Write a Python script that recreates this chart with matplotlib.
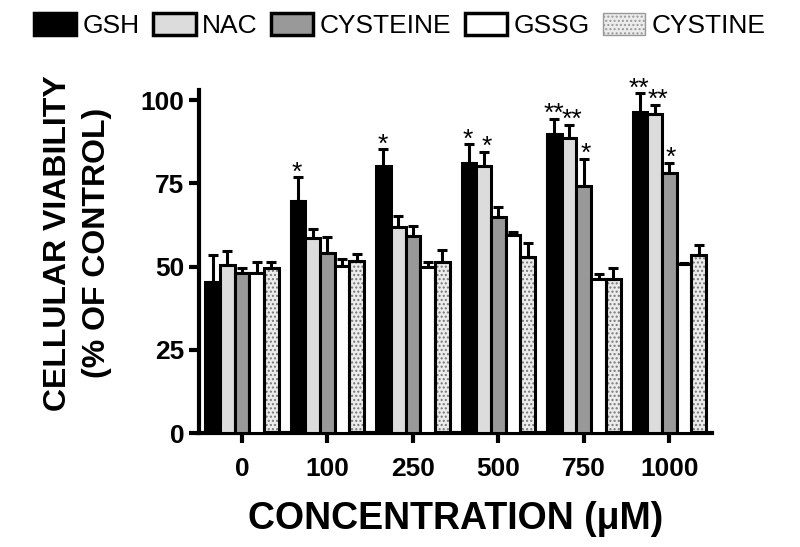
import matplotlib
matplotlib.use("Agg")
import matplotlib.pyplot as plt
import numpy as np
from matplotlib.patches import Patch

# concentrations (uM) and viability (% of control)
conc = ["0", "100", "250", "500", "750", "1000"]
names = ["GSH", "NAC", "CYSTEINE", "GSSG", "CYSTINE"]
gsh = [45.4, 69.8, 80.2, 81.2, 89.8, 96.3]
nac = [50.4, 58.5, 61.8, 80.2, 88.7, 95.8]
cysteine = [48.0, 54.0, 59.2, 65.0, 74.3, 78.2]
gssg = [48.0, 50.2, 50.0, 59.5, 46.2, 50.7]
cystine = [49.6, 51.6, 51.3, 52.8, 46.2, 53.5]
gsh_err = [8.0, 7.0, 5.0, 5.5, 4.5, 5.7]
nac_err = [4.2, 2.7, 3.4, 4.3, 3.8, 2.7]
cysteine_err = [1.5, 5.0, 3.0, 3.0, 8.0, 3.0]
gssg_err = [3.4, 2.0, 1.5, 1.0, 1.5, 0.5]
cystine_err = [1.7, 2.1, 3.7, 4.2, 3.4, 3.0]
gsh_sig = ["", "*", "*", "*", "**", "**"]
nac_sig = ["", "", "", "*", "**", "**"]
cysteine_sig = ["", "", "", "", "*", "*"]

means = [gsh, nac, cysteine, gssg, cystine]
errs = [gsh_err, nac_err, cysteine_err, gssg_err, cystine_err]
sigs = [gsh_sig, nac_sig, cysteine_sig, [""] * 6, [""] * 6]
faces = ["black", "#dcdcdc", "#999999", "white", "#ececec"]

plt.rcParams['font.family'] = ['Liberation Sans', 'DejaVu Sans']

fig = plt.figure(figsize=(8, 5.47), dpi=100)
ax = fig.add_axes([0.249, 0.2084, 0.641, 0.627])

x = np.arange(len(conc))
w = 0.172
lw = 2.2
shift = [-0.01, 0.035, 0.02, 0, 0]
for i in range(5):
    pos = x + (i - 2) * w
    if names[i] == "CYSTINE":
        ax.bar(pos, means[i], w, color=faces[i], edgecolor="#777777",
               hatch="....", linewidth=0, zorder=2)
        ax.bar(pos, means[i], w, fill=False, edgecolor="black", linewidth=lw, zorder=3)
    else:
        ax.bar(pos, means[i], w, color=faces[i], edgecolor="black", linewidth=lw, zorder=3)
    e = np.array(errs[i])
    ax.errorbar(pos, means[i], yerr=[np.zeros_like(e), e], fmt="none",
                ecolor="black", elinewidth=lw, capsize=3.5, capthick=lw, zorder=2)
    for j, s in enumerate(sigs[i]):
        if s:
            ax.text(pos[j] + shift[i], means[i][j] + errs[i][j] - 2.2, s,
                    ha="center", va="bottom", fontsize=19)

ax.set_xlim(-0.5, 5.5)
ax.set_ylim(0, 103)
ax.set_yticks([0, 25, 50, 75, 100])
ax.set_xticks(x)
ax.set_xticklabels(conc)
ax.spines["top"].set_visible(False)
ax.spines["right"].set_visible(False)
for sp in ["left", "bottom"]:
    ax.spines[sp].set_linewidth(3)
ax.tick_params(width=3, length=7, labelsize=19)
ax.tick_params(axis="x", pad=10)
for lab in ax.get_xticklabels() + ax.get_yticklabels():
    lab.set_fontweight("bold")

ax.set_ylabel("CELLULAR VIABILITY\n(% OF CONTROL)", fontsize=23, fontweight="bold",
              linespacing=1.4)
ax.yaxis.set_label_coords(-0.17, 0.555)
ax.set_xlabel("CONCENTRATION (\u03bcM)", fontsize=27, fontweight="bold", labelpad=15)

handles = []
for i in range(5):
    if names[i] == "CYSTINE":
        handles.append(Patch(facecolor=faces[i], edgecolor="#999999", hatch="....", linewidth=1))
    else:
        handles.append(Patch(facecolor=faces[i], edgecolor="black", linewidth=2.5))
fig.legend(handles, names, loc="upper center", bbox_to_anchor=(0.5, 1.02), ncol=5,
           frameon=False, handlelength=1.6, handleheight=0.9, handletextpad=0.25,
           columnspacing=0.5, prop={"size": 19})

fig.savefig("out.png", dpi=100)
